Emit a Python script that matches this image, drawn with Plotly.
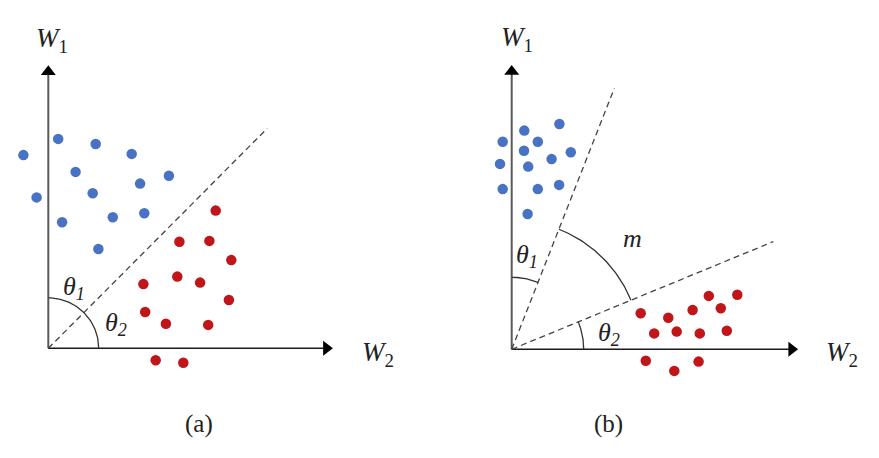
import numpy as np
import plotly.graph_objects as go

# ---------------- data (units: panel coordinates, origin at axes corner) --------------
# Panel (a)
a_blue_w2 = [-0.83, 0.33, 1.58, 2.78, 0.91, 3.06, 4.02, -0.39, 1.48, 0.46, 2.15, 3.20, 1.67]
a_blue_w1 = [6.44, 6.98, 6.81, 6.48, 5.88, 5.49, 5.75, 5.03, 5.17, 4.20, 4.37, 4.50, 3.31]
a_red_w2 = [5.58, 4.37, 5.37, 6.10, 3.17, 4.30, 5.06, 6.02, 3.23, 3.92, 5.33, 3.58, 4.50]
a_red_w1 = [4.59, 3.55, 3.58, 2.94, 2.14, 2.39, 2.19, 1.61, 1.21, 0.82, 0.78, -0.40, -0.48]
a_boundary = [7.30, 7.33]          # end point of dashed boundary (w2, w1)

# Panel (b)
b_blue_w2 = [1.59, 0.42, -0.30, 0.87, 0.41, 1.97, 1.33, -0.39, 0.55, -0.30, 0.87, 1.58, 0.53]
b_blue_w1 = [7.51, 7.29, 6.92, 6.92, 6.62, 6.57, 6.34, 6.18, 6.09, 5.34, 5.34, 5.48, 4.51]
b_red_w2 = [6.57, 7.52, 4.30, 5.22, 6.03, 6.97, 4.75, 5.50, 6.27, 7.17, 4.47, 5.42, 6.23]
b_red_w1 = [1.78, 1.82, 1.20, 1.05, 1.31, 1.37, 0.53, 0.59, 0.53, 0.62, -0.38, -0.72, -0.41]
b_boundary1 = [3.42, 8.70]
b_boundary2 = [8.72, 3.59]

axis_len_a = [9.49, 9.44]   # W2, W1 arrow lengths
axis_len_b = [9.55, 9.48]

captions = ["(a)", "(b)"]

# ---------------- styling ----------------
BLUE = "#4872C4"
RED = "#C01519"
SERIF = "Liberation Serif"
W, H = 879, 458
S = 30.0  # pixels per unit

fig = go.Figure()


def add_panel(xa, ya, blue, red, axis_len, dashed):
    fig.add_trace(go.Scatter(x=[0, 0], y=[0, axis_len[1] - 0.2], mode="lines",
                             line=dict(color="#5a5a5a", width=2), xaxis=xa, yaxis=ya,
                             showlegend=False, hoverinfo="skip"))
    fig.add_trace(go.Scatter(x=[0, axis_len[0] - 0.2], y=[0, 0], mode="lines",
                             line=dict(color="#1a1a1a", width=1.6), xaxis=xa, yaxis=ya,
                             showlegend=False, hoverinfo="skip"))
    fig.add_trace(go.Scatter(x=[0], y=[axis_len[1] - 0.22], mode="markers",
                             marker=dict(symbol="triangle-up", size=13, color="black"),
                             xaxis=xa, yaxis=ya, showlegend=False, hoverinfo="skip"))
    fig.add_trace(go.Scatter(x=[axis_len[0] - 0.22], y=[0], mode="markers",
                             marker=dict(symbol="triangle-right", size=13, color="black"),
                             xaxis=xa, yaxis=ya, showlegend=False, hoverinfo="skip"))
    for d in dashed:
        fig.add_trace(go.Scatter(x=[0, d[0]], y=[0, d[1]], mode="lines",
                                 line=dict(color="#444", width=1.3, dash="6px,4px"),
                                 xaxis=xa, yaxis=ya, showlegend=False, hoverinfo="skip"))
    fig.add_trace(go.Scatter(x=blue[0], y=blue[1], mode="markers",
                             marker=dict(color=BLUE, size=10.5), xaxis=xa, yaxis=ya,
                             showlegend=False))
    fig.add_trace(go.Scatter(x=red[0], y=red[1], mode="markers",
                             marker=dict(color=RED, size=10.5), xaxis=xa, yaxis=ya,
                             showlegend=False))


def add_arc(xa, ya, r, ang0, ang1, width=1.3):
    t = np.linspace(ang0, ang1, 60)
    fig.add_trace(go.Scatter(x=r * np.cos(t), y=r * np.sin(t), mode="lines",
                             line=dict(color="#333", width=width), xaxis=xa, yaxis=ya,
                             showlegend=False, hoverinfo="skip"))


# panel (a)
add_panel("x", "y", (a_blue_w2, a_blue_w1), (a_red_w2, a_red_w1), axis_len_a, [a_boundary])
add_arc("x", "y", 1.68, 0, np.pi / 2)

# panel (b)
add_panel("x2", "y2", (b_blue_w2, b_blue_w1), (b_red_w2, b_red_w1), axis_len_b,
          [b_boundary1, b_boundary2])
ang1 = np.arctan2(b_boundary1[1], b_boundary1[0])
ang2 = np.arctan2(b_boundary2[1], b_boundary2[0])
add_arc("x2", "y2", 2.4, ang1, np.pi / 2)
add_arc("x2", "y2", 2.4, 0, ang2)
add_arc("x2", "y2", 4.3, ang2, ang1)


def txt(xr, yr, x, y, s, size=27):
    fig.add_annotation(x=x, y=y, xref=xr, yref=yr, text=s, showarrow=False,
                       font=dict(family=SERIF, size=size, color="#222"),
                       xanchor="center", yanchor="middle")

W1 = "<i>W</i><sub>1</sub>"
W2 = "<i>W</i><sub>2</sub>"
T1 = "<i>θ</i><sub><i>1</i></sub>"
T2 = "<i>θ</i><sub><i>2</i></sub>"

txt("x", "y", 0.12, 10.28, W1)
txt("x", "y", 11.0, -0.18, W2)
txt("x", "y", 0.85, 2.0, T1, 26)
txt("x", "y", 2.25, 0.82, T2, 26)
txt("x", "y", 5.03, -2.52, captions[0], size=25)

txt("x2", "y2", 0.16, 10.34, W1)
txt("x2", "y2", 11.02, -0.15, W2)
txt("x2", "y2", 0.50, 3.10, T1, 26)
txt("x2", "y2", 3.24, 0.50, T2, 26)
txt("x2", "y2", 4.04, 3.71, "<i>m</i>", 26)
txt("x2", "y2", 3.24, -2.50, captions[1], size=25)

oa = (48.3, 348.3)
ob = (511.7, 349.3)
ax_common = dict(visible=False, domain=[0, 1], fixedrange=True)
fig.update_layout(
    width=W, height=H, autosize=False,
    margin=dict(l=0, r=0, t=0, b=0),
    paper_bgcolor="white", plot_bgcolor="white",
    xaxis=dict(range=[-oa[0] / S, (W - oa[0]) / S], **ax_common),
    yaxis=dict(range=[-(H - oa[1]) / S, oa[1] / S], **ax_common),
    xaxis2=dict(range=[-ob[0] / S, (W - ob[0]) / S], overlaying="x", anchor="y2", **ax_common),
    yaxis2=dict(range=[-(H - ob[1]) / S, ob[1] / S], overlaying="y", anchor="x2", **ax_common),
)

fig.write_html("out.html", config={"displayModeBar": False},
               post_script="document.body.style.margin='0';document.body.style.overflow='hidden';")
